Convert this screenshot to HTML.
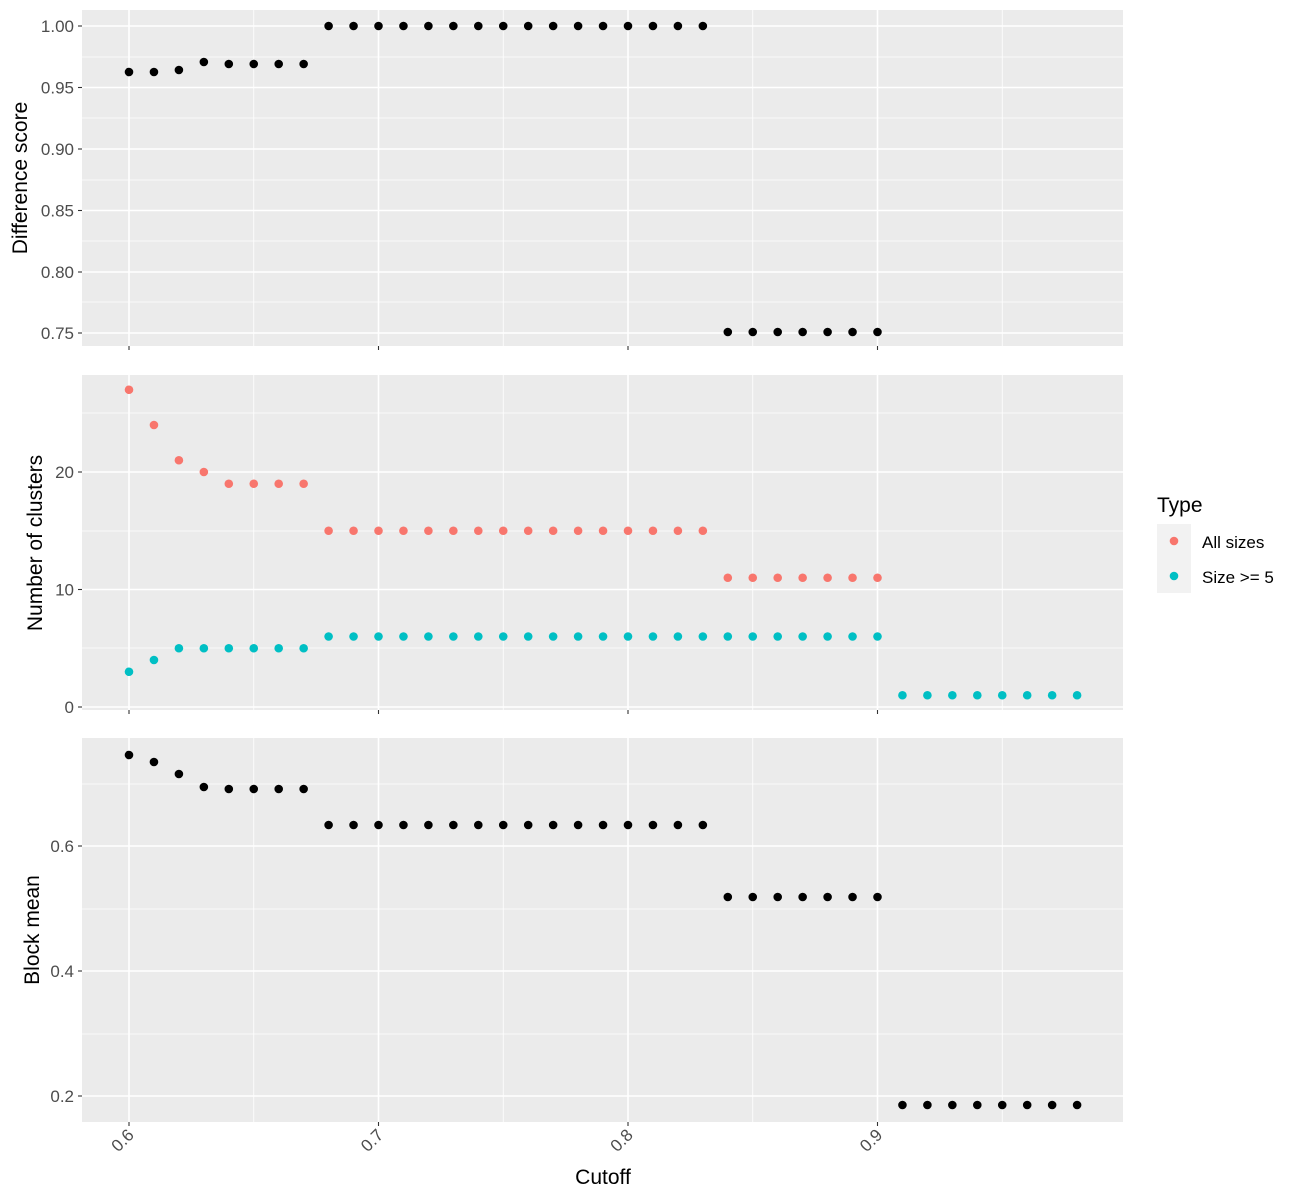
<!DOCTYPE html>
<html><head><meta charset="utf-8"><style>body{margin:0;background:#fff}svg{display:block}</style></head>
<body>
<svg id="s" width="1300" height="1200" xmlns="http://www.w3.org/2000/svg" font-family="Liberation Sans, sans-serif"></svg>
<script>
const s=document.getElementById('s');let h='';
const L=82,R=1123;
const X=v=>129+(v-0.6)*2495;
function panel(t,b,majY,minY){
  h+=`<rect x="${L}" y="${t}" width="${R-L}" height="${b-t}" fill="#EBEBEB"/>`;
  for(const y of minY)h+=`<line x1="${L}" x2="${R}" y1="${y}" y2="${y}" stroke="#fff" stroke-width="0.8"/>`;
  for(const v of [0.65,0.75,0.85,0.95])h+=`<line x1="${X(v)}" x2="${X(v)}" y1="${t}" y2="${b}" stroke="#fff" stroke-width="0.8"/>`;
  for(const [y,l] of majY){h+=`<line x1="${L}" x2="${R}" y1="${y}" y2="${y}" stroke="#fff" stroke-width="1.6"/>`;
    h+=`<line x1="${L-4}" x2="${L}" y1="${y}" y2="${y}" stroke="#333" stroke-width="1.1"/>`;
    h+=`<text x="${L-8}" y="${y+6}" style="font-size:17px" fill="#4D4D4D" text-anchor="end">${l}</text>`;}
  for(const v of [0.6,0.7,0.8,0.9]){h+=`<line x1="${X(v)}" x2="${X(v)}" y1="${t}" y2="${b}" stroke="#fff" stroke-width="1.6"/>`;
    h+=`<line x1="${X(v)}" x2="${X(v)}" y1="${b}" y2="${b+4}" stroke="#333" stroke-width="1.1"/>`;}
}
panel(10,346,[[26,'1.00'],[87.5,'0.95'],[149,'0.90'],[210.5,'0.85'],[272,'0.80'],[333,'0.75']],[57,118,180,241,302]);
panel(375,710,[[472,'20'],[589.5,'10'],[707,'0']],[413,531,648]);
panel(738,1122,[[846,'0.6'],[971,'0.4'],[1096,'0.2']],[784,909,1034]);
function pt(v,y,c){h+=`<circle cx="${X(v)}" cy="${y}" r="4.3" fill="${c}"/>`;}
const xs=[];for(let i=0;i<39;i++)xs.push(+(0.6+i*0.01).toFixed(2));
const p1=[72,72,70,62,64,64,64,64];
const red=[27,24,21,20,19,19,19,19];const cy=[3,4,5,5,5,5,5,5];
const p3=[755,762,774,787,789,789,789,789];
const Y2=v=>707-v*11.75;
xs.forEach((v,i)=>{
  if(i<31)pt(v,i<8?p1[i]:(i<24?26:332),'#000');
  if(i<31)pt(v,Y2(i<8?red[i]:(i<24?15:11)),'#F8766D');
  pt(v,Y2(i<8?cy[i]:(i<31?6:1)),'#00BFC4');
  pt(v,i<8?p3[i]:(i<24?825:(i<31?897:1105)),'#000');
});
for(const v of [0.6,0.7,0.8,0.9]){const x=X(v)+6,y=1136;
  h+=`<text x="${x}" y="${y}" style="font-size:17px" fill="#4D4D4D" text-anchor="end" transform="rotate(-45 ${x} ${y})">${v}</text>`;}
h+=`<text x="603" y="1184" style="font-size:21px" text-anchor="middle">Cutoff</text>`;
h+=`<text transform="translate(27 178) rotate(-90)" style="font-size:21px" text-anchor="middle">Difference score</text>`;
h+=`<text transform="translate(42 543) rotate(-90)" style="font-size:21px" text-anchor="middle">Number of clusters</text>`;
h+=`<text transform="translate(39 930) rotate(-90)" style="font-size:21px" text-anchor="middle">Block mean</text>`;
h+=`<text x="1157" y="512" style="font-size:21px">Type</text>`;
h+=`<rect x="1157" y="524" width="34" height="69" fill="#F2F2F2"/>`;
h+=`<circle cx="1174" cy="541" r="4.3" fill="#F8766D"/><circle cx="1174" cy="576" r="4.3" fill="#00BFC4"/>`;
h+=`<text x="1202" y="548" style="font-size:17px">All sizes</text><text x="1202" y="583" style="font-size:17px">Size &gt;= 5</text>`;
s.innerHTML=h;
</script>
</body></html>
